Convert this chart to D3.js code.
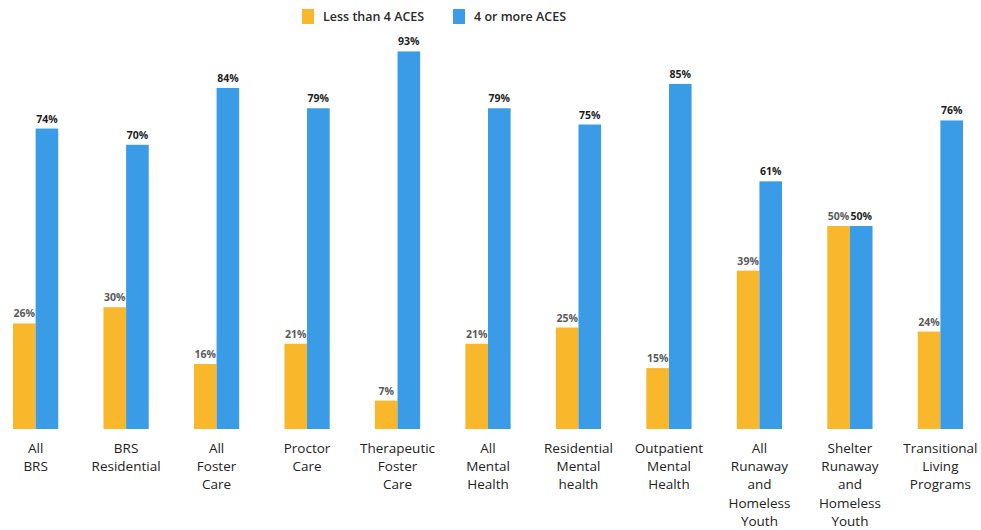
<!DOCTYPE html>
<html>
<head>
<meta charset="utf-8">
<script src="https://cdn.jsdelivr.net/npm/d3@7"></script>
<style>
  html, body { margin: 0; padding: 0; background: #fff; }
  svg { display: block; }
</style>
</head>
<body>
<svg id="chart" width="981" height="530"></svg>
<script>
// Program categories (multi-line labels) and share of youth by ACE count
const categories = [
  ["All", "BRS"],
  ["BRS", "Residential"],
  ["All", "Foster", "Care"],
  ["Proctor", "Care"],
  ["Therapeutic", "Foster", "Care"],
  ["All", "Mental", "Health"],
  ["Residential", "Mental", "health"],
  ["Outpatient", "Mental", "Health"],
  ["All", "Runaway", "and", "Homeless", "Youth"],
  ["Shelter", "Runaway", "and", "Homeless", "Youth"],
  ["Transitional", "Living", "Programs"]
];
const lessThan4 = [26, 30, 16, 21, 7, 21, 25, 15, 39, 50, 24];
const fourOrMore = [74, 70, 84, 79, 93, 79, 75, 85, 61, 50, 76];
const seriesNames = ["Less than 4 ACES", "4 or more ACES"];
const seriesColors = ["#F9B72B", "#3A9BE6"];

const svg = d3.select("#chart");
const baseline = 429;
const font = "'Open Sans', 'Noto Sans', sans-serif";

const x = d3.scaleBand()
  .domain(d3.range(categories.length))
  .range([13, 963])
  .paddingInner(0.5)
  .paddingOuter(0);

const xs = d3.scaleBand()
  .domain([0, 1])
  .range([0, x.bandwidth()]);

const y = d3.scaleLinear().domain([0, 100]).range([baseline, baseline - 406]);

const rows = categories.map((c, i) => ({
  i, label: c, vals: [lessThan4[i], fourOrMore[i]]
}));

const groups = svg.append("g").selectAll("g")
  .data(rows).join("g")
  .attr("transform", d => `translate(${x(d.i)},0)`);

groups.selectAll("rect")
  .data(d => d.vals.map((v, s) => ({ v, s })))
  .join("rect")
  .attr("x", d => xs(d.s))
  .attr("width", xs.bandwidth())
  .attr("y", d => y(d.v))
  .attr("height", d => baseline - y(d.v))
  .attr("fill", d => seriesColors[d.s]);

groups.selectAll("text.val")
  .data(d => d.vals.map((v, s) => ({ v, s })))
  .join("text")
  .attr("class", "val")
  .attr("x", d => xs(d.s) + xs.bandwidth() / 2)
  .attr("y", d => y(d.v) - 6)
  .attr("text-anchor", "middle")
  .attr("font-family", font)
  .attr("font-size", 10.5)
  .attr("font-weight", 700)
  .attr("fill", d => d.s === 0 ? "#5a5a5a" : "#1e1e1e")
  .text(d => d.v + "%");

// Category labels beneath each pair of bars
groups.append("text")
  .attr("x", x.bandwidth() / 2)
  .attr("y", 453)
  .attr("text-anchor", "middle")
  .attr("font-family", font)
  .attr("font-size", 13.5)
  .attr("fill", "#222")
  .selectAll("tspan")
  .data(d => d.label)
  .join("tspan")
  .attr("x", x.bandwidth() / 2)
  .attr("dy", (d, k) => k === 0 ? 0 : 18.2)
  .text(d => d);

// Legend
const legendX = [302, 453];
const legend = svg.append("g").selectAll("g")
  .data(seriesNames).join("g")
  .attr("transform", (d, k) => `translate(${legendX[k]},9)`);
legend.append("rect")
  .attr("width", 12).attr("height", 15)
  .attr("fill", (d, k) => seriesColors[k]);
legend.append("text")
  .attr("x", 21).attr("y", 12)
  .attr("font-family", font)
  .attr("font-size", 12.5)
  .attr("font-weight", 600)
  .attr("fill", "#2a2a2a")
  .text(d => d);
</script>
</body>
</html>
